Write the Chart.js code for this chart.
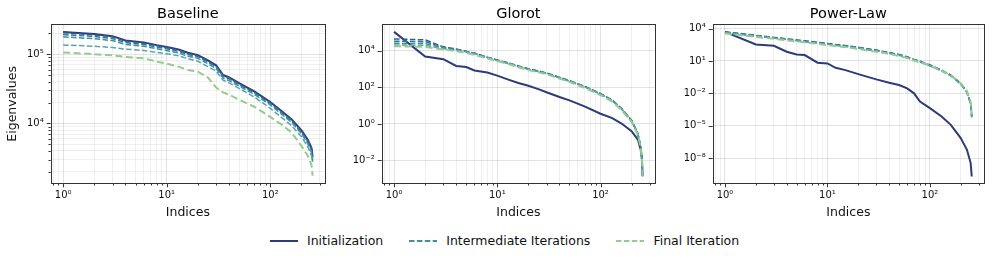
<!DOCTYPE html>
<html>
<head>
<meta charset="utf-8">
<script src="https://cdn.jsdelivr.net/npm/chart.js@4.4.1/dist/chart.umd.min.js"></script>
<style>
  html, body { margin: 0; padding: 0; background: #fff; }
  body { width: 996px; height: 260px; position: relative; overflow: hidden; font-family: "DejaVu Sans", sans-serif; }
  .panel { position: absolute; top: 0; }
  #legend { position: absolute; top: 233px; left: 270px; display: flex; align-items: center; font-size: 12.5px; line-height: 15px; color: #111; white-space: nowrap; }
  .item { display: flex; align-items: center; margin-right: 26px; }
  .item svg { margin-right: 9px; }
</style>
</head>
<body>
<canvas id="c1" class="panel" style="left:0px" width="330" height="225"></canvas>
<canvas id="c2" class="panel" style="left:330px" width="330" height="225"></canvas>
<canvas id="c3" class="panel" style="left:660px" width="336" height="225"></canvas>
<div id="legend"></div>
<script>
// Baseline panel
const baselineIdx = [1, 2, 3, 4, 6, 8, 10, 13, 16, 20, 25, 30, 35, 40, 50, 70, 100, 130, 160, 200, 230, 250, 256];
const baselineInit = [2.09e5, 1.95e5, 1.82e5, 1.58e5, 1.48e5, 1.35e5, 1.27e5, 1.17e5, 1.05e5, 9.7e4, 8.1e4, 6.9e4, 5.0e4, 4.6e4, 3.8e4, 2.9e4, 2.04e4, 1.48e4, 1.15e4, 7.9e3, 5.8e3, 4.4e3, 3.3e3];
const baselineInter1 = [2.04e5, 1.9e5, 1.78e5, 1.54e5, 1.44e5, 1.32e5, 1.24e5, 1.14e5, 1.02e5, 9.4e4, 7.9e4, 6.7e4, 4.9e4, 4.5e4, 3.7e4, 2.83e4, 1.99e4, 1.44e4, 1.12e4, 7.7e3, 5.6e3, 4.3e3, 3.2e3];
const baselineInter2 = [1.92e5, 1.8e5, 1.68e5, 1.47e5, 1.38e5, 1.27e5, 1.2e5, 1.1e5, 9.9e4, 9.2e4, 7.7e4, 6.5e4, 4.75e4, 4.4e4, 3.6e4, 2.75e4, 1.93e4, 1.4e4, 1.08e4, 7.4e3, 5.3e3, 4.0e3, 3.0e3];
const baselineInter3 = [1.78e5, 1.67e5, 1.57e5, 1.38e5, 1.3e5, 1.2e5, 1.13e5, 1.04e5, 9.4e4, 8.7e4, 7.3e4, 6.2e4, 4.5e4, 4.15e4, 3.45e4, 2.63e4, 1.85e4, 1.34e4, 1.04e4, 7.1e3, 5.1e3, 3.8e3, 2.8e3];
const baselineInter4 = [1.36e5, 1.3e5, 1.25e5, 1.18e5, 1.13e5, 1.06e5, 1.01e5, 9.5e4, 8.6e4, 7.9e4, 6.6e4, 5.7e4, 4.2e4, 3.85e4, 3.2e4, 2.4e4, 1.65e4, 1.2e4, 9.3e3, 6.4e3, 4.6e3, 3.4e3, 2.8e3];
const baselineFinal = [1.06e5, 1.0e5, 9.6e4, 9.1e4, 8.7e4, 7.8e4, 7.3e4, 6.6e4, 5.9e4, 5.6e4, 4.6e4, 3.3e4, 2.8e4, 2.6e4, 2.2e4, 1.74e4, 1.24e4, 9.5e3, 7.4e3, 4.7e3, 3.4e3, 2.5e3, 1.75e3];

// Glorot panel
const glorotIdx = [1, 2, 3, 4, 5, 6, 8, 10, 13, 16, 20, 25, 30, 40, 50, 70, 100, 130, 160, 200, 230, 245, 252, 256];
const glorotInit = [1.1e5, 4.9e3, 3.5e3, 1.5e3, 1.3e3, 850, 660, 440, 260, 175, 123, 81, 54, 30, 19.5, 9.1, 3.6, 2.1, 1.05, 0.4, 0.14, 0.04, 0.011, 0.0014];
const glorotInter1 = [4.5e4, 4.0e4, 1.66e4, 1.26e4, 9.5e3, 7.6e3, 4.5e3, 3.16e3, 2.14e3, 1.48e3, 1.05e3, 794, 617, 355, 234, 115, 46, 20, 6.9, 1.6, 0.3, 0.063, 0.016, 0.0014];
const glorotInter2 = [3.4e4, 3.2e4, 1.58e4, 1.2e4, 9.3e3, 7.4e3, 4.4e3, 3.1e3, 2.1e3, 1.45e3, 1.02e3, 776, 603, 347, 229, 112, 45, 19.5, 6.8, 1.55, 0.295, 0.062, 0.015, 0.0014];
const glorotInter3 = [2.6e4, 2.5e4, 1.48e4, 1.15e4, 9.1e3, 7.2e3, 4.3e3, 3.0e3, 2.04e3, 1.41e3, 1.0e3, 759, 589, 339, 224, 110, 44, 19, 6.6, 1.5, 0.29, 0.06, 0.0148, 0.00135];
const glorotInter4 = [2.1e4, 2.0e4, 1.32e4, 1.07e4, 8.7e3, 7.1e3, 4.2e3, 2.95e3, 2.0e3, 1.38e3, 977, 741, 575, 331, 219, 107, 43, 18.6, 6.5, 1.48, 0.28, 0.059, 0.0145, 0.00135];
const glorotFinal = [1.8e4, 1.66e4, 1.2e4, 9.5e3, 7.6e3, 6.0e3, 3.8e3, 2.8e3, 1.86e3, 1.26e3, 891, 676, 525, 302, 200, 95, 38, 16.6, 5.75, 1.32, 0.25, 0.05, 0.0126, 0.0014];

// Power-Law panel
const powerIdx = [1, 2, 3, 4, 5, 6, 8, 10, 12, 15, 20, 30, 40, 50, 60, 70, 80, 100, 130, 160, 200, 230, 250, 256];
const powerInit = [4.9e3, 331, 251, 71, 40, 35, 6.8, 5.9, 2.3, 1.41, 0.6, 0.195, 0.095, 0.059, 0.029, 0.01, 0.0017, 4.2e-4, 7.1e-5, 1.2e-5, 7.1e-7, 5.9e-8, 3.5e-9, 2.0e-10];
const powerInter1 = [4.9e3, 2.34e3, 1.51e3, 1.12e3, 870, 724, 525, 417, 331, 263, 182, 100, 60, 40, 24, 13.8, 9.5, 4.2, 1.41, 0.49, 0.083, 0.0141, 0.0012, 7.1e-5];
const powerInter2 = [4.6e3, 2.2e3, 1.41e3, 1.05e3, 813, 676, 490, 389, 309, 245, 170, 93, 56, 37, 22.4, 12.9, 8.9, 3.9, 1.32, 0.46, 0.078, 0.0132, 0.0011, 6.6e-5];
const powerInter3 = [4.3e3, 2.05e3, 1.32e3, 980, 760, 630, 457, 363, 288, 229, 159, 87, 52, 35, 20.9, 12, 8.3, 3.6, 1.23, 0.43, 0.072, 0.0123, 1.05e-3, 6.2e-5];
const powerInter4 = [4.1e3, 1.95e3, 1.26e3, 935, 725, 603, 437, 347, 275, 219, 151, 83, 50, 33, 20, 11.5, 7.9, 3.5, 1.18, 0.41, 0.069, 0.0118, 1.0e-3, 6.0e-5];
const powerFinal = [3.47e3, 1.66e3, 1.1e3, 794, 631, 525, 380, 288, 234, 186, 126, 71, 44, 29, 18.2, 11, 7.9, 3.6, 1.32, 0.47, 0.083, 0.0158, 0.0016, 1.1e-4];

// tick exponents (labelled decades)
const xMajorExp = [0, 1, 2];
const baselineYExp = [4, 5];
const glorotYExp = [-2, 0, 2, 4];
const powerYExp = [-8, -5, -2, 1, 4];

const legendLabels = ['Initialization', 'Intermediate Iterations', 'Final Iteration'];

const FONT = '"DejaVu Sans", sans-serif';
const initColor = '#2d3b7a';
const interColors = ['#2a5f8e', '#2f7898', '#3f8f9f', '#5aa3ad'];
const finalColor = '#96cb8f';

const SUP = { '-': '\u207b', '0': '\u2070', '1': '\u00b9', '2': '\u00b2', '3': '\u00b3', '4': '\u2074', '5': '\u2075', '6': '\u2076', '7': '\u2077', '8': '\u2078', '9': '\u2079' };
function powLabel(v) {
  const e = Math.round(Math.log10(v));
  return '10' + String(e).split('').map(c => SUP[c]).join('');
}
function isDecade(v, exps) {
  const l = Math.log10(v);
  return Math.abs(l - Math.round(l)) < 1e-9 && exps.includes(Math.round(l));
}

// all 1..9 x 10^e ticks inside [min, max]
function logTicks(min, max, withMinor, exps) {
  const out = [];
  for (let e = Math.floor(Math.log10(min)); e <= Math.ceil(Math.log10(max)); e++) {
    for (let m = 1; m <= 9; m++) {
      const v = m * Math.pow(10, e);
      if (v < min || v > max) continue;
      if (m === 1 && exps.includes(e)) out.push({ value: v, major: true });
      else if (withMinor) out.push({ value: v, major: false });
    }
  }
  return out;
}

const frame = {
  id: 'frame',
  afterDraw(chart) {
    const { ctx, chartArea: a, scales } = chart;
    ctx.save();
    ctx.strokeStyle = '#333';
    ctx.lineWidth = 1;
    ctx.beginPath();
    scales.x.ticks.forEach(t => {
      const px = Math.round(scales.x.getPixelForValue(t.value)) + 0.5;
      ctx.moveTo(px, a.bottom);
      ctx.lineTo(px, a.bottom + (t.major ? 4 : 2.2));
    });
    scales.y.ticks.forEach(t => {
      const py = Math.round(scales.y.getPixelForValue(t.value)) + 0.5;
      ctx.moveTo(a.left, py);
      ctx.lineTo(a.left - (t.major ? 4 : 2.2), py);
    });
    ctx.stroke();
    ctx.strokeRect(Math.round(a.left) + 0.5, Math.round(a.top) + 0.5, Math.round(a.right - a.left), Math.round(a.bottom - a.top));
    ctx.restore();
  }
};

const xMin = Math.pow(10, -0.12);
const xMax = Math.pow(10, 2.528);

function makePanel(id, cfg) {
  const series = [
    { values: cfg.init, color: initColor, width: 2, dash: [] },
    ...cfg.inter.map((v, k) => ({ values: v, color: interColors[k], width: 1.5, dash: [5.5, 2.4] })),
    { values: cfg.final, color: finalColor, width: 2, dash: [7, 3.5] }
  ];
  return new Chart(document.getElementById(id), {
    type: 'line',
    data: {
      datasets: series.map((s, k) => ({
        data: cfg.idx.map((x, j) => ({ x: x, y: s.values[j] })),
        borderColor: s.color,
        borderWidth: s.width,
        borderDash: s.dash,
        pointRadius: 0,
        fill: false,
        tension: 0,
        order: 20 - k
      }))
    },
    options: {
      responsive: false,
      animation: false,
      layout: { padding: { left: 0, right: cfg.padRight, top: 0, bottom: 0 } },
      plugins: {
        legend: { display: false },
        tooltip: { enabled: false },
        title: {
          display: true, text: cfg.title, fullSize: false, color: '#000',
          font: { family: FONT, size: 14.5, weight: 'normal' },
          padding: { top: 6, bottom: 1 }
        }
      },
      scales: {
        x: {
          type: 'logarithmic', min: xMin, max: xMax,
          afterFit: s => { s.height = 41.7; },
          afterBuildTicks: s => { s.ticks = logTicks(xMin, xMax, true, xMajorExp); },
          ticks: {
            autoSkip: false, maxRotation: 0, padding: 6, color: '#111',
            font: { family: FONT, size: 10 },
            callback: v => isDecade(v, xMajorExp) ? powLabel(v) : ''
          },
          grid: {
            drawTicks: false,
            color: c => (c.tick && c.tick.major) ? 'rgba(0,0,0,0.11)' : 'rgba(0,0,0,0.06)'
          },
          border: { display: false },
          title: {
            display: true, text: 'Indices', color: '#111',
            font: { family: FONT, size: 12.5 }, padding: { top: 0, bottom: 5 }
          }
        },
        y: {
          type: 'logarithmic', min: cfg.yMin, max: cfg.yMax,
          afterFit: s => { s.width = cfg.yWidth; },
          afterBuildTicks: s => { s.ticks = logTicks(cfg.yMin, cfg.yMax, cfg.yMinor, cfg.yExp); },
          ticks: {
            autoSkip: false, padding: 7, color: '#111',
            font: { family: FONT, size: 10 },
            callback: v => isDecade(v, cfg.yExp) ? powLabel(v) : ''
          },
          grid: {
            drawTicks: false,
            color: c => (c.tick && c.tick.major) ? 'rgba(0,0,0,0.11)' : 'rgba(0,0,0,0.06)'
          },
          border: { display: false },
          title: {
            display: !!cfg.yTitle, text: cfg.yTitle || '', color: '#111',
            font: { family: FONT, size: 12.5 }, padding: { top: 5, bottom: 0 }
          }
        }
      }
    },
    plugins: [frame]
  });
}

makePanel('c1', {
  title: 'Baseline', idx: baselineIdx, init: baselineInit,
  inter: [baselineInter1, baselineInter2, baselineInter3, baselineInter4], final: baselineFinal,
  yMin: Math.pow(10, 3.134), yMax: Math.pow(10, 5.43), yMinor: true, yExp: baselineYExp,
  yWidth: 50.7, padRight: 5, yTitle: 'Eigenvalues'
});
makePanel('c2', {
  title: 'Glorot', idx: glorotIdx, init: glorotInit,
  inter: [glorotInter1, glorotInter2, glorotInter3, glorotInter4], final: glorotFinal,
  yMin: Math.pow(10, -3.25), yMax: Math.pow(10, 5.45), yMinor: false, yExp: glorotYExp,
  yWidth: 51.7, padRight: 5
});
makePanel('c3', {
  title: 'Power-Law', idx: powerIdx, init: powerInit,
  inter: [powerInter1, powerInter2, powerInter3, powerInter4], final: powerFinal,
  yMin: Math.pow(10, -10.33), yMax: Math.pow(10, 4.38), yMinor: false, yExp: powerYExp,
  yWidth: 52.7, padRight: 12
});

// legend
const legendStyles = [
  { color: initColor, width: 2, dash: '' },
  { color: interColors[2], width: 2, dash: '5.5 2.4' },
  { color: finalColor, width: 2, dash: '5.5 2.4' }
];
const legend = document.getElementById('legend');
legendLabels.forEach((label, k) => {
  const st = legendStyles[k];
  const item = document.createElement('div');
  item.className = 'item';
  item.innerHTML = `<svg width="28" height="10"><line x1="0" y1="5" x2="28" y2="5" stroke="${st.color}" stroke-width="${st.width}" ${st.dash ? `stroke-dasharray="${st.dash}"` : ''}/></svg><span>${label}</span>`;
  legend.appendChild(item);
});
</script>
</body>
</html>
